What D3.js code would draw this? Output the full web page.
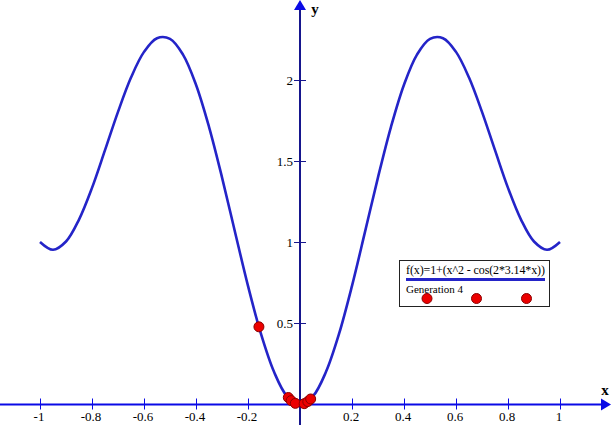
<!DOCTYPE html>
<html>
<head>
<meta charset="utf-8">
<script src="https://cdn.jsdelivr.net/npm/d3@7"></script>
<style>
  body { margin: 0; background: #fff; }
  svg { display: block; }
</style>
</head>
<body>
<div class="chart"></div>
<script>
var svgWidth = 611;
var svgHeight = 425;

// curve samples (x step 0.05)
var curveX = [-1, -0.95, -0.9, -0.85, -0.8, -0.75, -0.7, -0.65, -0.6, -0.55, -0.5,
  -0.45, -0.4, -0.35, -0.3, -0.25, -0.2, -0.15, -0.1, -0.05, 0,
  0.05, 0.1, 0.15, 0.2, 0.25, 0.3, 0.35, 0.4, 0.45, 0.5,
  0.55, 0.6, 0.65, 0.7, 0.75, 0.8, 0.85, 0.9, 0.95, 1];
var curveY = [1.0, 0.952, 1.003, 1.138, 1.333, 1.565, 1.801, 2.012, 2.170, 2.254, 2.25,
  2.153, 1.968, 1.709, 1.398, 1.062, 0.730, 0.434, 0.201, 0.051, 0,
  0.051, 0.201, 0.434, 0.730, 1.062, 1.398, 1.709, 1.968, 2.153, 2.25,
  2.254, 2.170, 2.012, 1.801, 1.565, 1.333, 1.138, 1.003, 0.952, 1.0];

// population of generation 4
var dotX = [-0.158, -0.045, -0.034, -0.018, 0.016, 0.03, 0.041];
var dotY = [0.478, 0.043, 0.024, 0.007, 0.005, 0.018, 0.034];

var xTicks = [-1, -0.8, -0.6, -0.4, -0.2, 0.2, 0.4, 0.6, 0.8, 1];
var yTicks = [0.5, 1, 1.5, 2];

var legendTitle = "f(x)=1+(x^2 - cos(2*3.14*x))";
var legendLabel = "Generation 4";

var xScale = d3.scaleLinear().domain([-1, 1]).range([40, 560]);
var yScale = d3.scaleLinear().domain([0, 2]).range([404.5, 79.5]);

var svg = d3.select(".chart")
  .append("svg")
  .attr("width", svgWidth)
  .attr("height", svgHeight);

var axisBlue = "#0a0ae6";
var axisNavy = "#16168e";
var curveBlue = "#2424c8";

// x axis
var x0 = yScale(0);
svg.append("line")
  .attr("x1", 0).attr("x2", 604)
  .attr("y1", x0).attr("y2", x0)
  .attr("stroke", axisBlue)
  .attr("stroke-width", 2);
svg.append("path")
  .attr("d", `M611,${x0} L601,${x0 - 6} L601,${x0 + 6} Z`)
  .attr("fill", axisBlue);

svg.selectAll(".xtick")
  .data(xTicks)
  .enter().append("line")
  .attr("x1", function(d) { return Math.round(xScale(d)) + 0.5; })
  .attr("x2", function(d) { return Math.round(xScale(d)) + 0.5; })
  .attr("y1", x0 - 6).attr("y2", x0 + 5)
  .attr("stroke", axisBlue)
  .attr("stroke-width", 1);

svg.selectAll(".xlabel")
  .data(xTicks)
  .enter().append("text")
  .text(function(d) { return d; })
  .attr("x", function(d) { return xScale(d) - 1; })
  .attr("y", 421)
  .attr("text-anchor", "middle")
  .attr("font-family", "Liberation Serif, serif")
  .attr("font-size", 13)
  .attr("fill", "#000");

// y axis
var y0 = xScale(0);
svg.append("line")
  .attr("x1", y0).attr("x2", y0)
  .attr("y1", 425).attr("y2", 8)
  .attr("stroke", axisNavy)
  .attr("stroke-width", 2);
svg.append("path")
  .attr("d", `M${y0},0 L${y0 - 6},10 L${y0 + 6},10 Z`)
  .attr("fill", axisBlue);

svg.selectAll(".ytick")
  .data(yTicks)
  .enter().append("line")
  .attr("x1", y0 - 6).attr("x2", y0 + 6)
  .attr("y1", function(d) { return Math.round(yScale(d)) + 0.5; })
  .attr("y2", function(d) { return Math.round(yScale(d)) + 0.5; })
  .attr("stroke", axisNavy)
  .attr("stroke-width", 1);

svg.selectAll(".ylabel")
  .data(yTicks)
  .enter().append("text")
  .text(function(d) { return d; })
  .attr("x", y0 - 7)
  .attr("y", function(d) { return yScale(d) + 5; })
  .attr("text-anchor", "end")
  .attr("font-family", "Liberation Serif, serif")
  .attr("font-size", 13)
  .attr("fill", "#000");

svg.append("text")
  .text("x")
  .attr("x", 605).attr("y", 395)
  .attr("text-anchor", "middle")
  .attr("font-family", "Liberation Serif, serif")
  .attr("font-weight", "bold")
  .attr("font-size", 15)
  .attr("fill", "#000");
svg.append("text")
  .text("y")
  .attr("x", 315).attr("y", 14)
  .attr("text-anchor", "middle")
  .attr("font-family", "Liberation Serif, serif")
  .attr("font-weight", "bold")
  .attr("font-size", 15)
  .attr("fill", "#000");

// function curve
var line = d3.line()
  .x(function(d, i) { return xScale(curveX[i]); })
  .y(function(d) { return yScale(d); })
  .curve(d3.curveCatmullRom);

svg.append("path")
  .datum(curveY)
  .attr("d", line)
  .attr("fill", "none")
  .attr("stroke", curveBlue)
  .attr("stroke-width", 2.6);

// population dots
svg.selectAll(".dot")
  .data(dotX)
  .enter().append("circle")
  .attr("cx", function(d) { return xScale(d); })
  .attr("cy", function(d, i) { return yScale(dotY[i]); })
  .attr("r", 5)
  .attr("fill", "#ec0000")
  .attr("stroke", "#8a0000")
  .attr("stroke-width", 1);

// legend
var legend = svg.append("g");
legend.append("rect")
  .attr("x", 399.5).attr("y", 260.5)
  .attr("width", 150).attr("height", 46)
  .attr("fill", "#fff")
  .attr("stroke", "#222")
  .attr("stroke-width", 1);
legend.append("text")
  .text(legendTitle)
  .attr("x", 406).attr("y", 274)
  .attr("font-family", "Liberation Serif, serif")
  .attr("font-size", 12)
  .attr("textLength", 139)
  .attr("fill", "#000");
legend.append("line")
  .attr("x1", 406).attr("x2", 545)
  .attr("y1", 279.5).attr("y2", 279.5)
  .attr("stroke", curveBlue)
  .attr("stroke-width", 3);
legend.append("text")
  .text(legendLabel)
  .attr("x", 406).attr("y", 293)
  .attr("font-family", "Liberation Serif, serif")
  .attr("font-size", 11)
  .attr("fill", "#000");
legend.selectAll(".ldot")
  .data([427, 476.5, 526.5])
  .enter().append("circle")
  .attr("cx", function(d) { return d; })
  .attr("cy", 298.5)
  .attr("r", 5)
  .attr("fill", "#ec0000")
  .attr("stroke", "#8a0000")
  .attr("stroke-width", 1);
</script>
</body>
</html>
